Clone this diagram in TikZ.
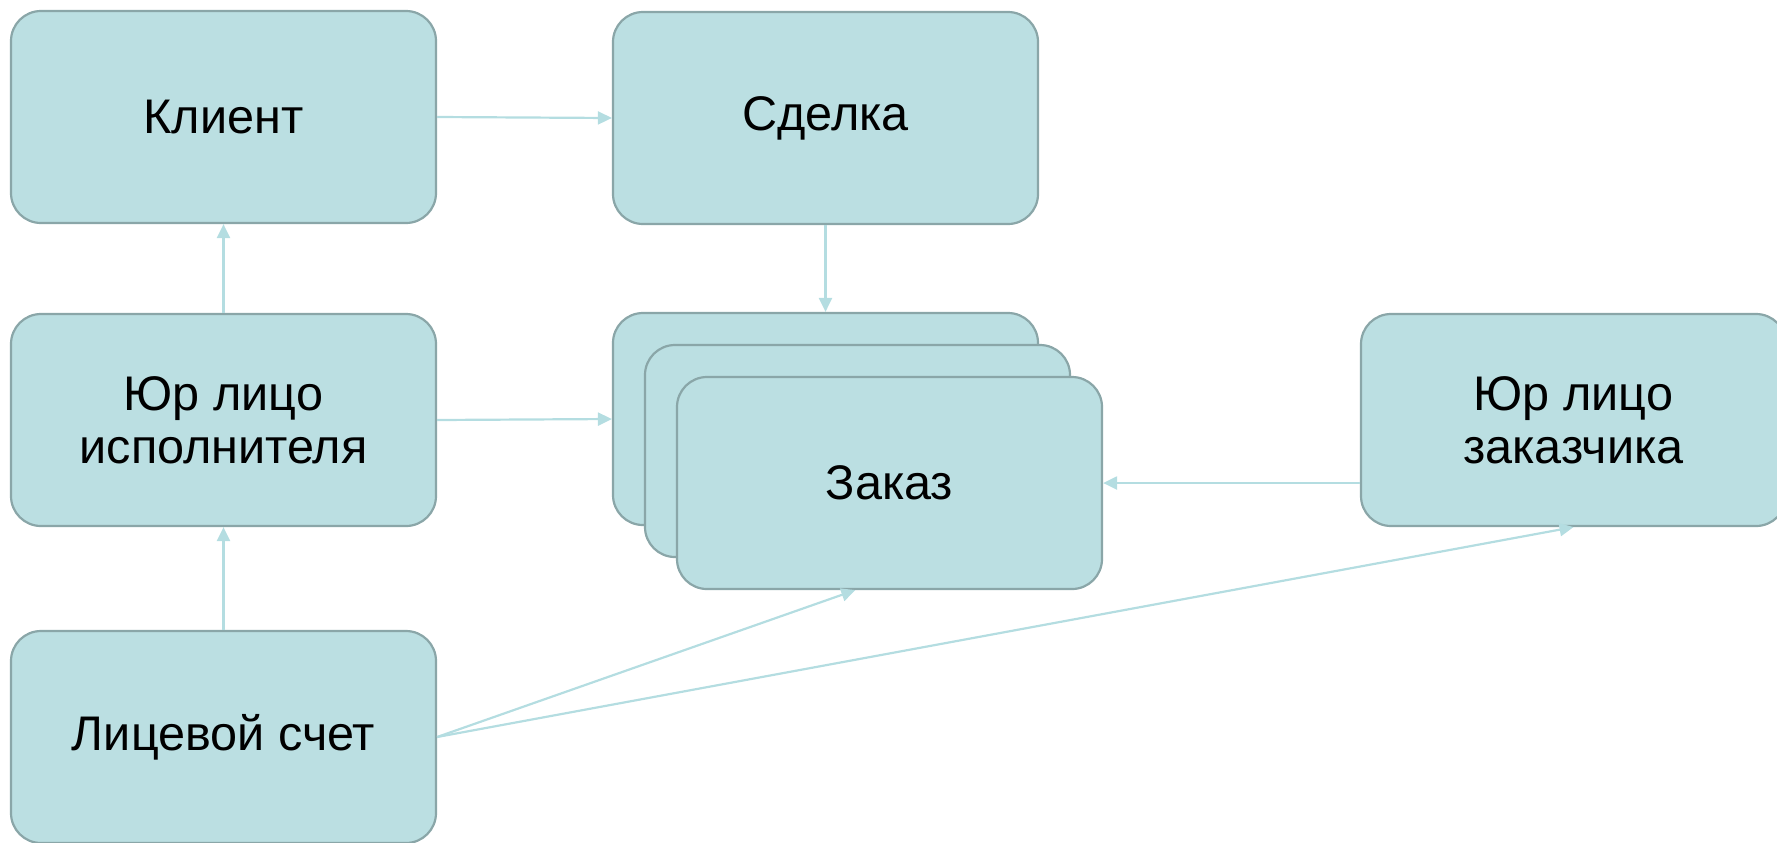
\documentclass[tikz,border=0pt]{standalone}
\usepackage{fontspec}
\setmainfont{Liberation Sans}
\usetikzlibrary{arrows.meta,calc}
\definecolor{boxfill}{RGB}{187,223,226}
\definecolor{boxline}{RGB}{138,166,168}
\definecolor{arrcol}{RGB}{180,221,225}
\tikzset{
  ent/.style={draw=boxline, fill=boxfill, line width=1.1pt, rounded corners=15pt,
    minimum width=212.5pt, minimum height=106pt, inner sep=0pt,
    align=center, font=\fontsize{24.3}{26.5}\selectfont},
  arr/.style={draw=arrcol, line width=1.1pt, -{Triangle[length=7pt,width=6.5pt]}}
}
\begin{document}
\begin{tikzpicture}[x=0.5pt,y=-0.5pt]
\useasboundingbox (0,0) rectangle (1777,842);
\clip (0,0) rectangle (1777,842);
\node[ent] (klient) at (223.5,117) {Клиент};
\node[ent] (sdelka) at (825.5,118) {Сделка};
\node[ent] (yurisp) at (223.5,420) {Юр лицо\\исполнителя};
\node[ent] (zak1) at (825.5,419) {};
\node[ent] (zak2) at (857.5,451) {};
\node[ent] (zak3) at (889.5,483) {Заказ};
\node[ent] (yurzak) at (1573.5,420) {Юр лицо\\заказчика};
\node[ent] (lic) at (223.5,737) {Лицевой счет};
\draw[arr] (klient.east) -- (sdelka.west);
\draw[arr] (sdelka.south) -- (zak1.north);
\draw[arr] (yurisp.north) -- (klient.south);
\draw[arr] (lic.north) -- (yurisp.south);
\draw[arr] (yurisp.east) -- (zak1.west);
\draw[arr] (zak3.east -| yurzak.west) -- (zak3.east);
\draw[arr] (lic.east) -- ($(zak3.south west)!0.42!(zak3.south east)$);
\draw[arr] (lic.east) -- (yurzak.south);
\end{tikzpicture}
\end{document}
